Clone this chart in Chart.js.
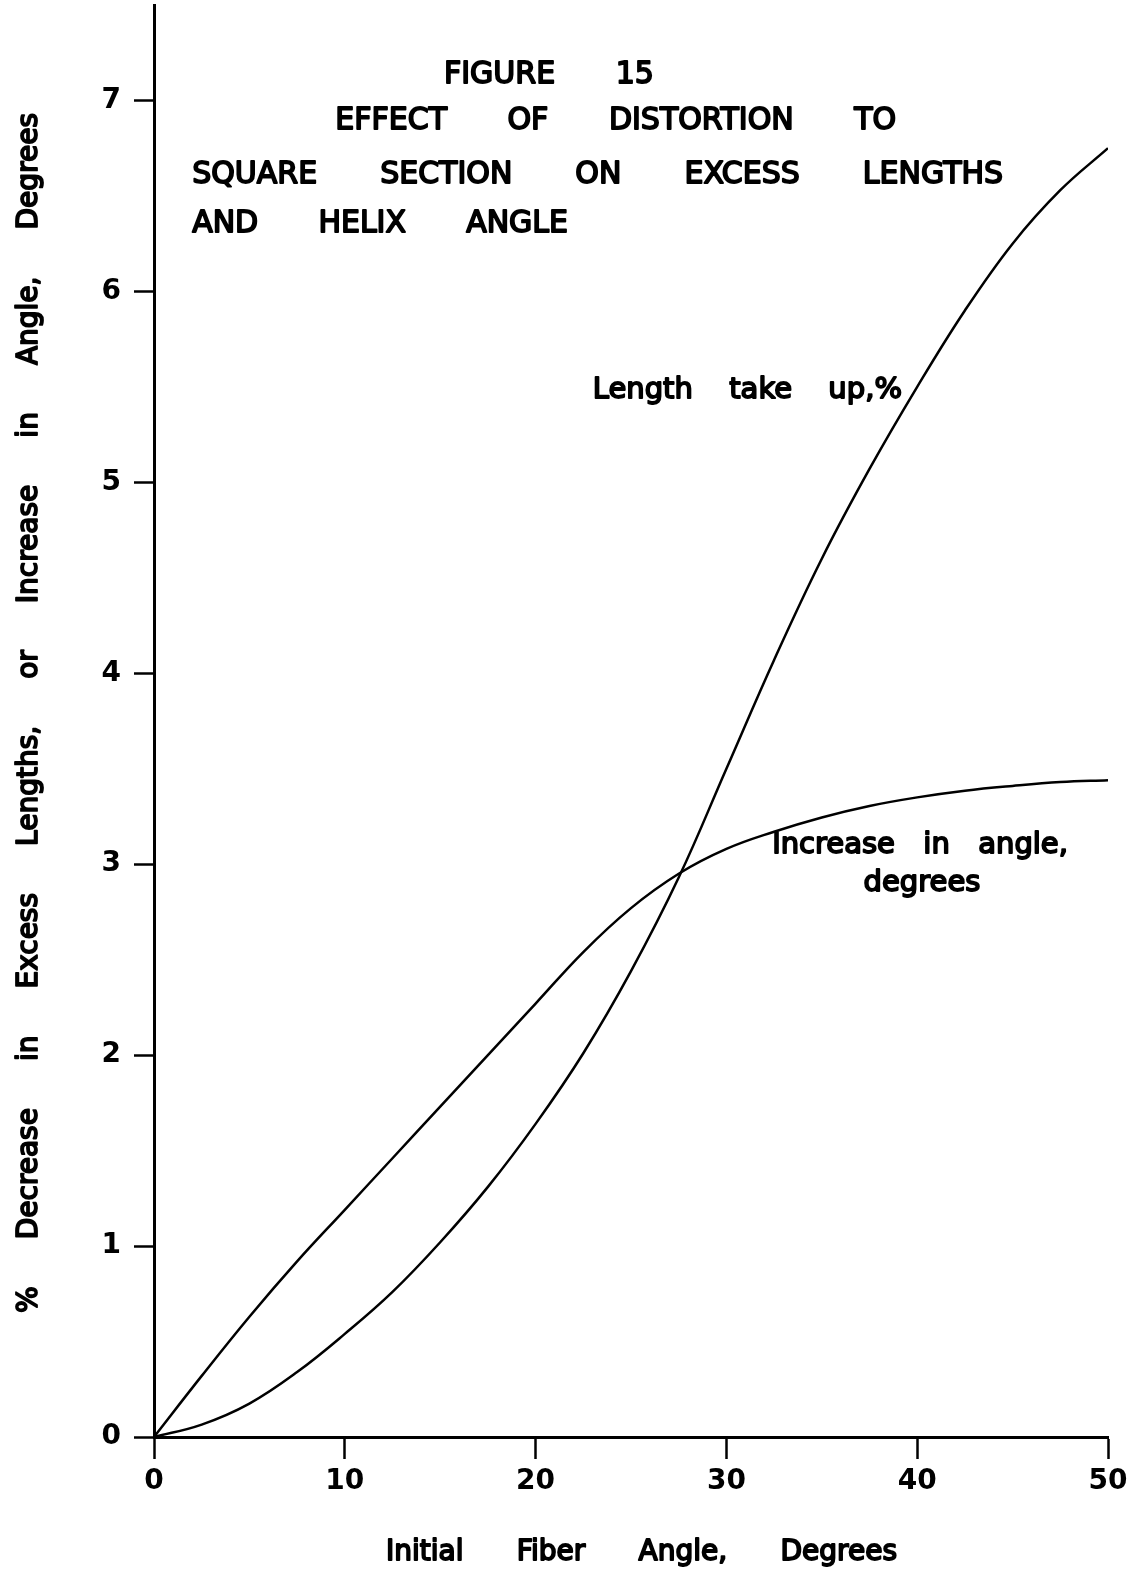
<!DOCTYPE html>
<html>
<head>
<meta charset="utf-8">
<title>Figure 15 - Effect of distortion to square section</title>
<script src="https://cdn.jsdelivr.net/npm/chart.js@4.4.1/dist/chart.umd.min.js"></script>
<style>
    html, body { margin: 0; padding: 0; background: #fff; }
    #wrap { position: relative; width: 1138px; height: 1572px; }
</style>
</head>
<body>
<div id="wrap"><canvas id="chart"></canvas></div>
<script>
// Values
const fiberAngle    = [0, 2.5, 5, 7.5, 10, 12.5, 15, 17.5, 20, 22.5, 25, 27.5, 30, 32.5, 35, 37.5, 40, 42.5, 45, 47.5, 50];
const lengthTakeUp  = [0, 0.065, 0.175, 0.34, 0.54, 0.76, 1.02, 1.31, 1.64, 2.01, 2.44, 2.93, 3.5, 4.07, 4.6, 5.07, 5.5, 5.9, 6.25, 6.53, 6.75];
const angleIncrease = [0, 0.32, 0.63, 0.92, 1.19, 1.46, 1.73, 2.0, 2.27, 2.54, 2.77, 2.95, 3.08, 3.17, 3.245, 3.305, 3.35, 3.385, 3.41, 3.43, 3.44];

const xTicks = [0, 10, 20, 30, 40, 50];
const yTicks = [0, 1, 2, 3, 4, 5, 6, 7];

const titleLines = [
    ['FIGURE', '15'],
    ['EFFECT', 'OF', 'DISTORTION', 'TO'],
    ['SQUARE', 'SECTION', 'ON', 'EXCESS', 'LENGTHS'],
    ['AND', 'HELIX', 'ANGLE']
];
const lengthLabel = ['Length', 'take', 'up,%'];
const angleLabel = ['Increase', 'in', 'angle,'];
const angleLabel2 = 'degrees';
const xTitle = ['Initial', 'Fiber', 'Angle,', 'Degrees'];
const yTitle = ['%', 'Decrease', 'in', 'Excess', 'Lengths,', 'or', 'Increase', 'in', 'Angle,', 'Degrees'];

const FONT = '"DejaVu Sans", sans-serif';

function toPoints(xs, ys) {
    return xs.map((x, i) => ({ x: x, y: ys[i] }));
}

// draw words spread evenly between two x positions
function spreadWords(ctx, words, x0, x1, y) {
    const widths = words.map(w => ctx.measureText(w).width);
    const total = widths.reduce((a, b) => a + b, 0);
    const gap = words.length > 1 ? (x1 - x0 - total) / (words.length - 1) : 0;
    let x = x0;
    words.forEach((w, i) => {
        ctx.strokeText(w, x, y);
        ctx.fillText(w, x, y);
        x += widths[i] + gap;
    });
}

const letteringPlugin = {
    id: 'lettering',
    afterDraw(chart) {
        const ctx = chart.ctx;
        const xs = chart.scales.x;
        const ys = chart.scales.y;
        const area = chart.chartArea;
        ctx.save();
        ctx.fillStyle = '#000';
        ctx.strokeStyle = '#000';
        ctx.lineWidth = 1.8;
        ctx.lineJoin = 'round';
        ctx.textAlign = 'left';
        ctx.textBaseline = 'middle';

        // title block (positions in data units)
        ctx.font = '30px ' + FONT;
        const titlePos = [
            [15.2, 26.2, 7.13],
            [9.5, 38.9, 6.89],
            [2.0, 44.5, 6.61],
            [2.0, 21.7, 6.35]
        ];
        titleLines.forEach((words, i) => {
            const p = titlePos[i];
            spreadWords(ctx, words, xs.getPixelForValue(p[0]), xs.getPixelForValue(p[1]), ys.getPixelForValue(p[2]));
        });

        // curve labels
        ctx.font = '29px ' + FONT;
        spreadWords(ctx, lengthLabel, xs.getPixelForValue(23.0), xs.getPixelForValue(39.2), ys.getPixelForValue(5.48));
        spreadWords(ctx, angleLabel, xs.getPixelForValue(32.4), xs.getPixelForValue(47.9), ys.getPixelForValue(3.1));
        ctx.textAlign = 'center';
        ctx.strokeText(angleLabel2, xs.getPixelForValue(40.25), ys.getPixelForValue(2.9));
        ctx.fillText(angleLabel2, xs.getPixelForValue(40.25), ys.getPixelForValue(2.9));
        ctx.textAlign = 'left';

        // x axis title
        ctx.font = '28px ' + FONT;
        spreadWords(ctx, xTitle, 386, 897, area.bottom + 116);

        // y axis title, reading bottom to top
        ctx.translate(30, 1313);
        ctx.rotate(-Math.PI / 2);
        spreadWords(ctx, yTitle, 0, 1200, 0);
        ctx.restore();
    }
};

const axisColor = '#000';

new Chart(document.getElementById('chart'), {
    type: 'scatter',
    data: {
        datasets: [
            {
                label: 'Length take up,%',
                data: toPoints(fiberAngle, lengthTakeUp),
                showLine: true,
                borderColor: '#000',
                borderWidth: 2.5,
                pointRadius: 0,
                tension: 0.4,
                fill: false
            },
            {
                label: 'Increase in angle, degrees',
                data: toPoints(fiberAngle, angleIncrease),
                showLine: true,
                borderColor: '#000',
                borderWidth: 2.5,
                pointRadius: 0,
                tension: 0.4,
                fill: false
            }
        ]
    },
    options: {
        responsive: true,
        maintainAspectRatio: false,
        animation: false,
        layout: { padding: { top: 5, right: 30, left: 0, bottom: 0 } },
        plugins: {
            legend: { display: false },
            tooltip: { enabled: false },
            title: { display: false }
        },
        scales: {
            x: {
                type: 'linear',
                min: 0,
                max: 50,
                afterBuildTicks: axis => { axis.ticks = xTicks.map(v => ({ value: v })); },
                afterFit: scale => { scale.height = 135; scale.paddingLeft = 0; scale.paddingRight = 0; },
                ticks: {
                    color: '#000',
                    padding: 6,
                    font: { family: FONT, size: 28, weight: 'bold' }
                },
                grid: {
                    display: true,
                    drawOnChartArea: false,
                    drawTicks: true,
                    tickLength: 22,
                    tickColor: axisColor,
                    tickWidth: 2.5,
                    color: axisColor
                },
                border: { display: true, color: axisColor, width: 3 }
            },
            y: {
                type: 'linear',
                min: 0,
                max: 7.5,
                afterBuildTicks: axis => { axis.ticks = yTicks.map(v => ({ value: v })); },
                afterFit: scale => { scale.width = 154; scale.paddingTop = 0; scale.paddingBottom = 0; },
                ticks: {
                    color: '#000',
                    padding: 13,
                    font: { family: FONT, size: 28, weight: 'bold' }
                },
                grid: {
                    display: true,
                    drawOnChartArea: false,
                    drawTicks: true,
                    tickLength: 20,
                    tickColor: axisColor,
                    tickWidth: 2.5,
                    color: axisColor
                },
                border: { display: true, color: axisColor, width: 3 }
            }
        }
    },
    plugins: [letteringPlugin]
});
</script>
</body>
</html>
